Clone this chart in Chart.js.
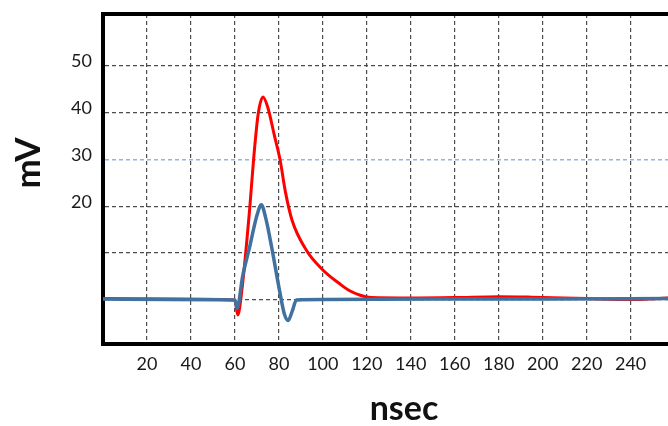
<!DOCTYPE html>
<html>
<head>
<meta charset="utf-8">
<script src="https://cdn.jsdelivr.net/npm/chart.js@4"></script>
<style>
  html, body { margin: 0; padding: 0; background: #fff; }
  #wrap { width: 668px; height: 426px; }
</style>
</head>
<body>
<div id="wrap"><canvas id="pulse"></canvas></div>
<script>
// x ticks (nsec) and y ticks (mV)
const xTicks = [20, 40, 60, 80, 100, 120, 140, 160, 180, 200, 220, 240];
const yTicks = [0, 10, 20, 30, 40, 50];
const yLabelled = [20, 30, 40, 50];

// red trace
const redX = [0, 30, 60, 61.3, 63, 66.8, 68.5, 70.6, 72.8, 75, 78, 80.5, 83, 86, 92.5, 100, 107.5, 112, 117, 122, 140, 160, 180, 195, 220, 240, 257];
const redY = [0.3, 0.2, 0, -3.2, 1.4, 19.9, 30, 39.7, 43.3, 41, 35, 30, 23, 17, 10.6, 6.4, 3.5, 2, 1, 0.5, 0.4, 0.5, 0.7, 0.6, 0.3, 0.1, 0.4];

// blue trace
const blueX = [0, 30, 60, 61, 63.5, 66.8, 70, 72, 74, 76.7, 80.5, 82.5, 84.2, 86, 88, 100, 150, 200, 257];
const blueY = [0.2, 0.1, 0, -1.8, 5, 11.5, 18, 20.3, 17.5, 11.3, 1.5, -3, -4.4, -2.5, 0, 0.1, 0.2, 0.2, 0.3];

const toPoints = (xs, ys) => xs.map((x, i) => ({ x: x, y: ys[i] }));

const tickFont = { family: 'Lato', size: 18 };
const gridColor = '#4d4d4d';

// axis titles drawn at the spots they sit in the original
const axisTitles = {
    id: 'axisTitles',
    afterDraw(chart) {
        const ctx = chart.ctx;
        ctx.save();
        ctx.fillStyle = '#111';
        ctx.font = 'bold 34px Lato';
        ctx.textAlign = 'center';
        ctx.textBaseline = 'middle';
        ctx.fillText('nsec', 404, 409);
        ctx.font = 'bold 35px Lato';
        ctx.translate(29, 163);
        ctx.rotate(-Math.PI / 2);
        ctx.fillText('mV', 0, 0);
        ctx.restore();
    }
};

new Chart(document.getElementById('pulse'), {
    type: 'line',
    data: {
        datasets: [
            {
                label: 'blue',
                data: toPoints(blueX, blueY),
                borderColor: '#41729f',
                borderWidth: 3.5,
                pointRadius: 0,
                cubicInterpolationMode: 'monotone'
            },
            {
                label: 'red',
                data: toPoints(redX, redY),
                borderColor: '#ff0000',
                borderWidth: 3,
                pointRadius: 0,
                cubicInterpolationMode: 'monotone'
            }
        ]
    },
    options: {
        responsive: true,
        maintainAspectRatio: false,
        animation: false,
        layout: { padding: 0 },
        plugins: {
            legend: { display: false },
            tooltip: { enabled: false }
        },
        scales: {
            x: {
                type: 'linear',
                position: 'bottom',
                min: 0,
                max: 257,
                afterBuildTicks: s => { s.ticks = xTicks.map(v => ({ value: v })); },
                afterFit: s => { s.height = 82; },
                ticks: { font: tickFont, color: '#1a1a1a', padding: 9, callback: v => String(v) },
                grid: { color: gridColor, lineWidth: 1.2, drawTicks: false },
                border: { color: '#000', width: 4, dash: [4, 3] }
            },
            xTop: {
                type: 'linear',
                position: 'top',
                min: 0,
                max: 257,
                afterFit: s => { s.height = 14; },
                ticks: { display: false },
                grid: { display: false, drawTicks: false },
                border: { color: '#000', width: 4 }
            },
            y: {
                type: 'linear',
                min: -9.4,
                max: 61,
                afterBuildTicks: s => { s.ticks = yTicks.map(v => ({ value: v })); },
                afterFit: s => { s.width = 103; s.paddingTop = 0; s.paddingBottom = 0; },
                ticks: {
                    font: tickFont,
                    color: '#1a1a1a',
                    padding: 11,
                    labelOffset: -4,
                    callback: v => yLabelled.includes(v) ? String(v) : ''
                },
                grid: {
                    color: c => (c.tick && c.tick.value === 30) ? '#8db8e2' : gridColor,
                    lineWidth: c => (c.tick && c.tick.value === 30) ? 1.6 : 1.2,
                    drawTicks: false
                },
                border: { color: '#000', width: 4, dash: [4, 3] }
            }
        }
    },
    plugins: [axisTitles]
});
</script>
</body>
</html>
